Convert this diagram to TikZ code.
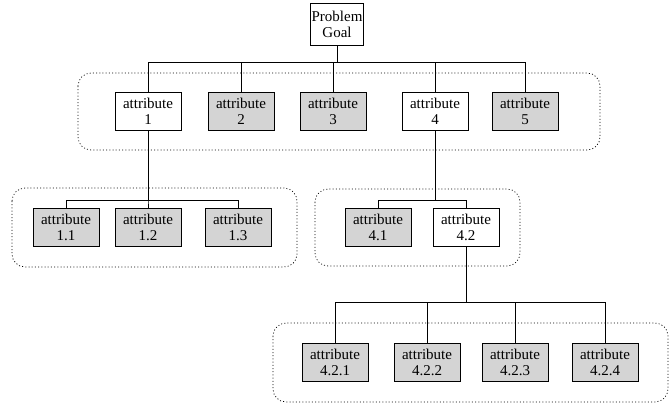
\documentclass[tikz,border=0pt]{standalone}
\usepackage{fontspec}
\setmainfont{Liberation Serif}
\usetikzlibrary{calc}

\begin{document}
\begin{tikzpicture}[%
x=1pt, y=-1pt,
attr/.style={draw, line width=0.7pt, minimum width=66, minimum height=38, inner sep=0pt, align=center, font=\fontsize{15}{16}\selectfont},
shaded/.style={attr, fill=black!17},
group/.style={draw, dash pattern=on 1pt off 2.2pt, line width=0.7pt, rounded corners=13pt},
link/.style={draw, line width=0.8pt},
]
\useasboundingbox (0,0) rectangle (669,405);
%% groups;
\draw [group] (78,73) rectangle (600,150);
\draw [group] (12,188) rectangle (297,267);
\draw [group] (315,189) rectangle (520,266);
\draw [group] (273,323) rectangle (668,402);
%% root;
\node [attr, minimum width=53, minimum height=42] (goal) at (337,24) {Problem\\Goal};
%% level 1;
\node [attr] (a1) at (148,111) {attribute\\1};
\node [shaded] (a2) at (241,111) {attribute\\2};
\node [shaded] (a3) at (333,111) {attribute\\3};
\node [attr] (a4) at (435,111) {attribute\\4};
\node [shaded] (a5) at (525,111) {attribute\\5};
%% level 2;
\node [shaded] (a11) at (66,227) {attribute\\1.1};
\node [shaded] (a12) at (148,227) {attribute\\1.2};
\node [shaded] (a13) at (238,227) {attribute\\1.3};
\node [shaded] (a41) at (378,227) {attribute\\4.1};
\node [attr] (a42) at (466,227) {attribute\\4.2};
%% level 3;
\node [shaded] (a421) at (335,362) {attribute\\4.2.1};
\node [shaded] (a422) at (427,362) {attribute\\4.2.2};
\node [shaded] (a423) at (515,362) {attribute\\4.2.3};
\node [shaded] (a424) at (605,362) {attribute\\4.2.4};
%% links;
\foreach \c in {a1,a2,a3,a4,a5}
  \draw [link] (goal.south) -- ++(0,17) -| (\c.north);
\foreach \c in {a11,a12,a13}
  \draw [link] (a1.south) -- ++(0,70) -| (\c.north);
\foreach \c in {a41,a42}
  \draw [link] (a4.south) -- ++(0,70) -| (\c.north);
\foreach \c in {a421,a422,a423,a424}
  \draw [link] (a42.south) -- ++(0,56) -| (\c.north);
\end{tikzpicture}
\end{document}
